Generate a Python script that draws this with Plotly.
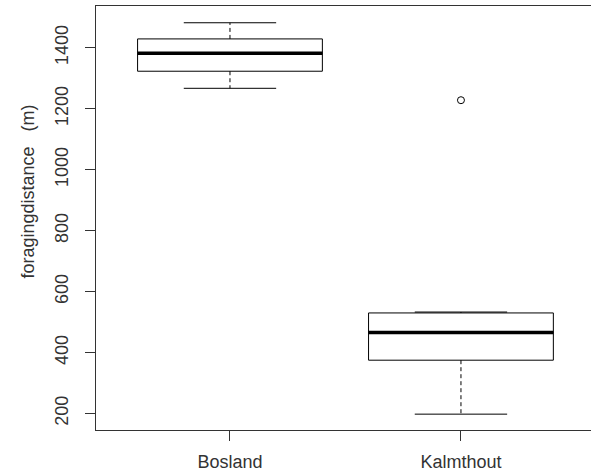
import plotly.graph_objects as go

categories = ["Bosland", "Kalmthout"]
positions = [1, 2]
q1 = [1323, 375]
median = [1382, 466]
q3 = [1429, 530]
lower_whisker = [1267, 198]
upper_whisker = [1482, 533]
outlier_x = [2]
outlier_y = [1228]
y_ticks = [200, 400, 600, 800, 1000, 1200, 1400]

box_width = 0.8
cap_half = box_width / 4

fig = go.Figure()

for i, name in enumerate(categories):
    x0 = positions[i]
    fig.add_trace(go.Box(
        x=[x0], q1=[q1[i]], median=[median[i]], q3=[q3[i]],
        lowerfence=[q1[i]], upperfence=[q3[i]],
        width=box_width, whiskerwidth=0,
        fillcolor="white", line=dict(color="black", width=1),
        boxpoints=False, showlegend=False, name=name, hoverinfo="skip",
    ))
    # dashed whiskers
    fig.add_trace(go.Scatter(
        x=[x0, x0, None, x0, x0],
        y=[q3[i], upper_whisker[i], None, q1[i], lower_whisker[i]],
        mode="lines", line=dict(color="black", width=1, dash="4px,3px"),
        showlegend=False, hoverinfo="skip",
    ))
    # caps
    fig.add_trace(go.Scatter(
        x=[x0 - cap_half, x0 + cap_half, None, x0 - cap_half, x0 + cap_half],
        y=[upper_whisker[i], upper_whisker[i], None, lower_whisker[i], lower_whisker[i]],
        mode="lines", line=dict(color="black", width=1),
        showlegend=False, hoverinfo="skip",
    ))
    # thick median
    fig.add_trace(go.Scatter(
        x=[x0 - box_width / 2, x0 + box_width / 2],
        y=[median[i], median[i]],
        mode="lines", line=dict(color="black", width=3.5),
        showlegend=False, hoverinfo="skip",
    ))

fig.add_trace(go.Scatter(
    x=outlier_x, y=outlier_y, mode="markers",
    marker=dict(symbol="circle-open", size=7, color="black", line=dict(width=1)),
    showlegend=False, hoverinfo="skip",
))

font = dict(family="Liberation Sans, Arial, sans-serif", size=18, color="#333333")

fig.update_layout(
    width=591, height=475,
    margin=dict(l=96, r=0, t=6, b=45),
    paper_bgcolor="white", plot_bgcolor="white",
    font=font,
    xaxis=dict(
        range=[0.42, 2.563], tickmode="array", tickvals=positions, ticktext=categories,
        showgrid=False, zeroline=False, showline=True, mirror=True,
        linecolor="#333333", linewidth=1.2, ticks="outside", ticklen=10,
        tickcolor="#333333", tickfont=font, ticklabelstandoff=5,
    ),
    yaxis=dict(
        range=[146, 1537], tickmode="array", tickvals=y_ticks,
        ticktext=[str(v) for v in y_ticks],
        showgrid=False, zeroline=False, showline=True, mirror=False,
        linecolor="#333333", linewidth=1.2, ticks="outside", ticklen=10,
        tickcolor="#333333", tickangle=-90, tickfont=font, ticklabelstandoff=10,
    ),
    annotations=[dict(
        text="foragingdistance   (m)", textangle=-90,
        xref="paper", yref="paper", x=0, y=(430 - 191.5) / 424,
        xshift=-69, xanchor="center", yanchor="middle",
        showarrow=False, font=font,
    )],
)

fig.write_html(
    "out.html",
    config={"displayModeBar": False},
    post_script="document.body.style.margin='0';document.body.style.overflow='hidden';",
)
